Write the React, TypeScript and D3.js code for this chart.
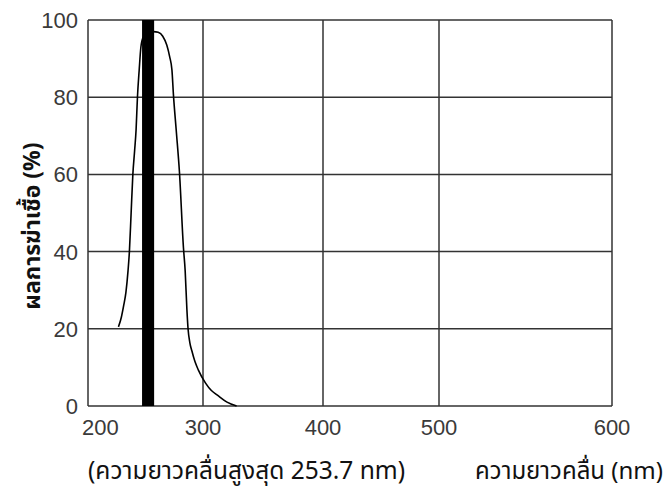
import React from "react";
import * as d3 from "d3";

const xTicks = [200, 300, 400, 500, 600];
const yTicks = [0, 20, 40, 60, 80, 100];
const peakBand = [247, 257.5];
const curveWavelength = [226.5, 229, 231, 233, 234.8, 236, 237.5, 239, 240.5, 241.8, 243, 244.5, 246, 248, 252, 257, 261, 265, 268.5, 271, 273, 274.3, 276.7, 279.5, 283, 284.5, 286, 287, 288.5, 290.3, 293, 296, 302, 307, 312, 320, 328];
const curveEffect = [20.5, 23, 26, 29.5, 35, 40, 50, 60, 66, 71.5, 80, 87, 93, 95.5, 96.5, 97, 96.8, 95.8, 93.5, 90.5, 87, 80.6, 71.5, 60.7, 41, 35, 25, 20, 16.5, 14.3, 11.5, 9.3, 6, 4, 2.8, 1, 0];
const yTitle = "ผลการฆ่าเชื้อ (%)";
const peakLabel = "(ความยาวคลื่นสูงสุด 253.7 nm)";
const xTitle = "ความยาวคลื่น (nm)";

const W = 668, H = 490;
const thaiFont = "Tahoma, 'Noto Sans Thai', 'Leelawadee UI', 'DejaVu Sans', sans-serif";
const numFont = "'Liberation Sans', Arial, sans-serif";
const gridColor = "#333";

export default function App() {
  const x = d3.scaleLinear().domain(xTicks).range([88, 203, 323, 439, 612]);
  const y = d3.scaleLinear().domain([0, 100]).range([406, 20]);
  const pts: [number, number][] = curveWavelength.map((w, i) => [w, curveEffect[i]]);
  const line = d3.line<[number, number]>().x(d => x(d[0])).y(d => y(d[1])).curve(d3.curveMonotoneX);
  const x0 = x(xTicks[0]);
  const x1 = x(xTicks[xTicks.length - 1]);

  return (
    <svg width={W} height={H} style={{ position: "absolute", left: 0, top: 0, background: "#fff" }}>
      <g>
        {yTicks.map(t => (
          <line key={"gy" + t} x1={x0} x2={x1} y1={y(t)} y2={y(t)} stroke={gridColor} strokeWidth={1.5} />
        ))}
        {xTicks.map(t => (
          <line key={"gx" + t} x1={x(t)} x2={x(t)} y1={y(0)} y2={y(100)} stroke={gridColor} strokeWidth={1.5} />
        ))}
        {yTicks.map(t => (
          <text key={"ly" + t} x={78} y={y(t)} dy="0.36em" textAnchor="end" fontFamily={numFont} fontSize={22} fill="#3a3a3a">{t}</text>
        ))}
        {xTicks.map((t, i) => (
          <text key={"lx" + t} x={i === 0 ? x(t) - 6 : x(t)} y={435} textAnchor={i === 0 ? "start" : "middle"} fontFamily={numFont} fontSize={22} fill="#3a3a3a">{t}</text>
        ))}
        <path d={line(pts) || ""} fill="none" stroke="#000" strokeWidth={1.6} />
        <rect x={x(peakBand[0])} y={y(100)} width={x(peakBand[1]) - x(peakBand[0])} height={y(0) - y(100)} fill="#000" />
        <text transform={`translate(40, 226) rotate(-90)`} textAnchor="middle" fontFamily={thaiFont} fontWeight="bold" fontSize={23} fill="#111">{yTitle}</text>
        <text x={88} y={479} textAnchor="start" fontFamily={thaiFont} fontSize={24.5} fill="#111">{peakLabel}</text>
        <text x={663} y={479} textAnchor="end" fontFamily={thaiFont} fontSize={24} fill="#111">{xTitle}</text>
      </g>
    </svg>
  );
}
